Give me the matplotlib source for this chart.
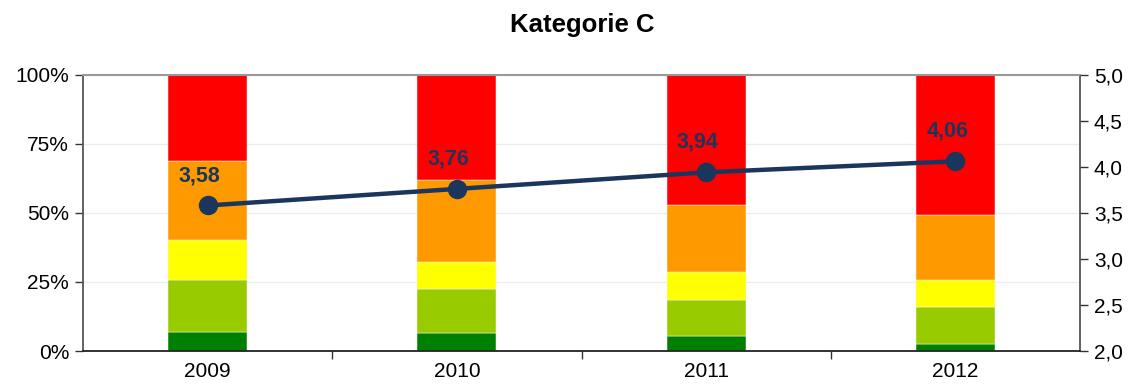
import matplotlib.pyplot as plt
import numpy as np
from matplotlib.ticker import FixedLocator

plt.rcParams['font.family'] = ['Liberation Sans', 'DejaVu Sans']

# Jahre und Anteile je Bewertungsstufe (in %)
jahre = ['2009', '2010', '2011', '2012']
dunkelgruen = [6.9, 6.6, 5.4, 2.5]
hellgruen = [18.8, 15.9, 13.1, 13.5]
gelb = [14.5, 9.7, 10.1, 9.6]
orange = [28.7, 29.7, 24.4, 23.6]
rot = [31.1, 38.1, 47.0, 50.8]
mittelwert = [3.58, 3.76, 3.94, 4.06]

stufen = [dunkelgruen, hellgruen, gelb, orange, rot]
farben = ['#008000', '#99CC00', '#FFFF00', '#FF9900', '#FF0000']

fig = plt.figure(figsize=(11.3, 3.87), dpi=100)
ax = fig.add_axes([0.0735, 0.093, 0.8823, 0.714])
x = np.arange(len(jahre))

unten = np.zeros(len(jahre))
for werte, farbe in zip(stufen, farben):
    ax.bar(x, werte, width=0.317, bottom=unten, color=farbe,
           edgecolor='#f4f4f4', linewidth=0.35, zorder=2)
    unten += np.array(werte)

ax.set_xlim(-0.5, len(jahre) - 0.5)
ax.set_ylim(0, 100)
ax.set_yticks([0, 25, 50, 75, 100])
ax.set_yticklabels(['0%', '25%', '50%', '75%', '100%'], fontsize=15)
ax.grid(axis='y', color='#ececec', linewidth=1, zorder=0)
ax.set_xticks(x)
ax.set_xticklabels(jahre, fontsize=15)
ax.tick_params(axis='x', length=0, pad=8)
ax.xaxis.set_minor_locator(FixedLocator([0.5, 1.5, 2.5]))
ax.tick_params(axis='x', which='minor', length=6, width=1, color='#333333', direction='out')
ax.tick_params(axis='y', length=6, width=1, color='#333333', direction='out', pad=4)

for s in ['left', 'right']:
    ax.spines[s].set_color('#555555')
    ax.spines[s].set_linewidth(1.3)
ax.spines['bottom'].set_color('#222222')
ax.spines['bottom'].set_linewidth(1.3)
ax.spines['top'].set_color('#999999')
ax.spines['top'].set_linewidth(1.5)

# Mittelwert auf der rechten Achse
ax2 = ax.twinx()
ax2.set_ylim(2.0, 5.0)
ax2.set_yticks(np.arange(2.0, 5.01, 0.5))
ax2.set_yticklabels([f'{v:.1f}'.replace('.', ',') for v in np.arange(2.0, 5.01, 0.5)], fontsize=15)
ax2.tick_params(axis='y', length=6, width=1, color='#333333', direction='out', pad=4)
for s in ax2.spines.values():
    s.set_visible(False)
ax2.plot(x, mittelwert, color='#1B365D', linewidth=3.2, marker='o', markersize=13, zorder=5)
for xi, v in zip(x, mittelwert):
    ax2.annotate(f'{v:.2f}'.replace('.', ','), (xi, v), xytext=(-6, 21.5),
                 textcoords='offset points', ha='center', va='center',
                 fontsize=15.5, fontweight='bold', color='#1B365D')

fig.text(0.515, 0.935, 'Kategorie C', fontsize=18.5, fontweight='bold',
         ha='center', va='center')

fig.savefig('out.png', dpi=100)
